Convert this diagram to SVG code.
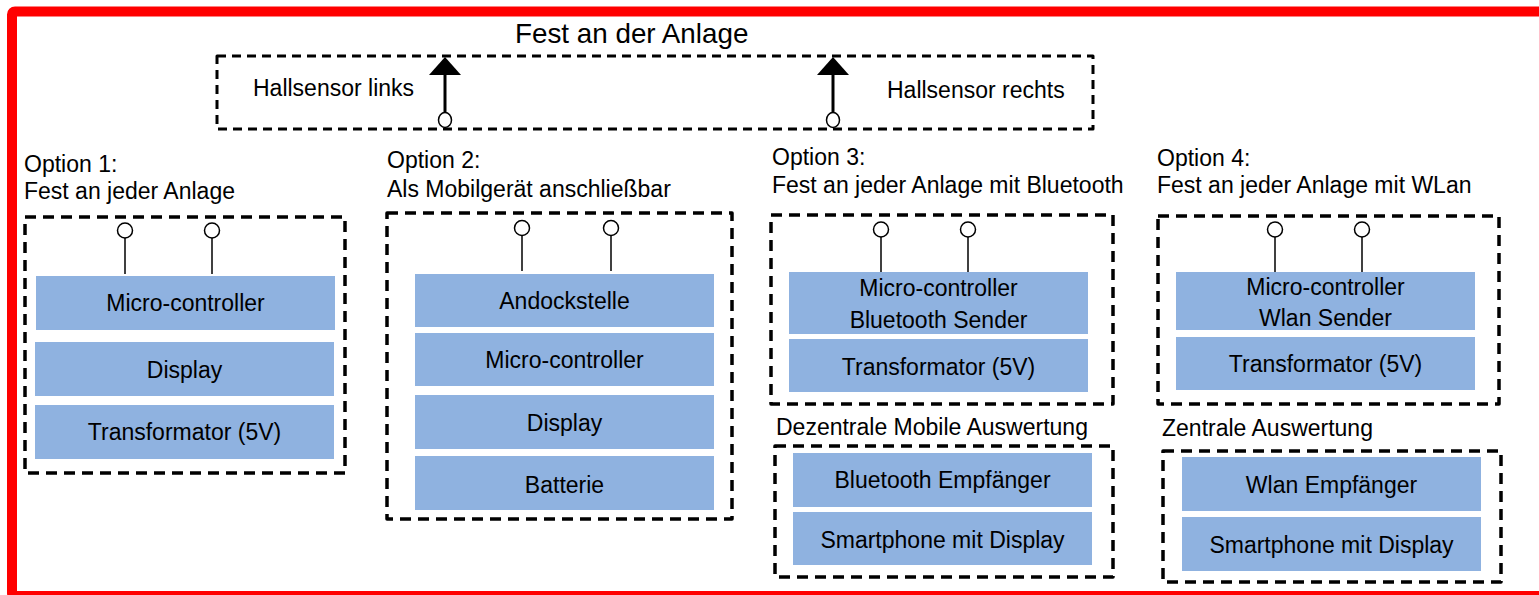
<svg xmlns="http://www.w3.org/2000/svg" width="1539" height="595" viewBox="0 0 1539 595">
  <style>
    text { font-family: "Liberation Sans", Arial, sans-serif; fill: #000; }
    .t { font-size: 23px; }
    .c { font-size: 23px; text-anchor: middle; }
    .title { font-size: 27.8px; }
    .frame { fill: none; stroke: #000; stroke-width: 3.5; stroke-dasharray: 11 7; stroke-linejoin: round; }
    .frame-top { fill: none; stroke: #000; stroke-width: 3; stroke-dasharray: 9 6; stroke-linejoin: round; }
    .block { fill: #8fb2e0; }
    .pin { fill: #fff; stroke: #000; stroke-width: 1.5; }
    .lead { stroke: #000; stroke-width: 1.5; }
    .sensor-line { stroke: #000; stroke-width: 3; }
  </style>

  <!-- outer frame -->
  <rect x="12" y="11.5" width="1540" height="584.5" rx="3" fill="#fff" stroke="#ff0000" stroke-width="10"/>

  <!-- sensors fixed on the track -->
  <g id="anlage">
    <text class="title" x="515" y="43">Fest an der Anlage</text>
    <rect class="frame-top" x="217" y="56" width="876" height="73"/>
    <text class="t" x="253" y="96">Hallsensor links</text>
    <text class="t" x="887" y="98">Hallsensor rechts</text>
  </g>

  <g id="connectors">
    <!-- hall sensors -->
    <line class="sensor-line" x1="445" y1="112" x2="445" y2="74"/>
    <polygon points="445,57 429,75 461,75" fill="#000"/>
    <ellipse class="pin" cx="445" cy="120" rx="6.5" ry="7.5"/>
    <line class="sensor-line" x1="833" y1="112" x2="833" y2="74"/>
    <polygon points="833,57 817,75 849,75" fill="#000"/>
    <ellipse class="pin" cx="833" cy="120" rx="6.5" ry="7.5"/>

    <!-- sensor inputs option 1 -->
    <line class="lead" x1="125" y1="238" x2="125" y2="274"/>
    <line class="lead" x1="212" y1="238" x2="212" y2="274"/>
    <circle class="pin" cx="125" cy="230.5" r="7.5"/>
    <circle class="pin" cx="212" cy="230.5" r="7.5"/>
    <!-- option 2 -->
    <line class="lead" x1="522" y1="236" x2="522" y2="271"/>
    <line class="lead" x1="611" y1="236" x2="611" y2="271"/>
    <circle class="pin" cx="522" cy="228" r="7.5"/>
    <circle class="pin" cx="611" cy="228" r="7.5"/>
    <!-- option 3 -->
    <line class="lead" x1="881" y1="237" x2="881" y2="272"/>
    <line class="lead" x1="968" y1="237" x2="968" y2="272"/>
    <circle class="pin" cx="881" cy="229.5" r="7.5"/>
    <circle class="pin" cx="968" cy="229.5" r="7.5"/>
    <!-- option 4 -->
    <line class="lead" x1="1275" y1="237" x2="1275" y2="272"/>
    <line class="lead" x1="1362" y1="237" x2="1362" y2="272"/>
    <circle class="pin" cx="1275" cy="229.5" r="7.5"/>
    <circle class="pin" cx="1362" cy="229.5" r="7.5"/>
  </g>

  <!-- option 1 -->
  <g id="option1">
    <text class="t" x="24" y="172">Option 1:</text>
    <text class="t" x="24" y="199">Fest an jeder Anlage</text>
    <rect class="frame" x="25" y="217" width="320" height="256"/>
    <rect class="block" x="36" y="276" width="299" height="54"/>
    <text class="c" x="185.5" y="311">Micro-controller</text>
    <rect class="block" x="35" y="342" width="299" height="54"/>
    <text class="c" x="184.5" y="378">Display</text>
    <rect class="block" x="35" y="405" width="299" height="54"/>
    <text class="c" x="184.5" y="440">Transformator (5V)</text>
  </g>

  <!-- option 2 -->
  <g id="option2">
    <text class="t" x="387" y="168">Option 2:</text>
    <text class="t" x="387" y="197">Als Mobilgerät anschließbar</text>
    <rect class="frame" x="387" y="213" width="345" height="306"/>
    <rect class="block" x="415" y="274" width="299" height="53"/>
    <text class="c" x="564.5" y="309">Andockstelle</text>
    <rect class="block" x="415" y="333" width="299" height="53"/>
    <text class="c" x="564.5" y="368">Micro-controller</text>
    <rect class="block" x="415" y="395" width="299" height="54"/>
    <text class="c" x="564.5" y="431">Display</text>
    <rect class="block" x="415" y="456" width="299" height="54"/>
    <text class="c" x="564.5" y="493">Batterie</text>
  </g>

  <!-- option 3 -->
  <g id="option3">
    <text class="t" x="772" y="165">Option 3:</text>
    <text class="t" x="772" y="193">Fest an jeder Anlage mit Bluetooth</text>
    <rect class="frame" x="771" y="215" width="342" height="189"/>
    <rect class="block" x="789" y="272" width="299" height="62"/>
    <text class="c" x="938.5" y="296">Micro-controller</text>
    <text class="c" x="938.5" y="328">Bluetooth Sender</text>
    <rect class="block" x="789" y="339" width="299" height="53"/>
    <text class="c" x="938.5" y="375">Transformator (5V)</text>
  </g>

  <g id="mobile-auswertung">
    <text class="t" x="776" y="435">Dezentrale Mobile Auswertung</text>
    <rect class="frame" x="775" y="446" width="338" height="131"/>
    <rect class="block" x="793" y="453" width="299" height="54"/>
    <text class="c" x="942.5" y="488">Bluetooth Empfänger</text>
    <rect class="block" x="793" y="512" width="299" height="53"/>
    <text class="c" x="942.5" y="548">Smartphone mit Display</text>
  </g>

  <!-- option 4 -->
  <g id="option4">
    <text class="t" x="1157" y="166">Option 4:</text>
    <text class="t" x="1157" y="193">Fest an jeder Anlage mit WLan</text>
    <rect class="frame" x="1158" y="216" width="341" height="188"/>
    <rect class="block" x="1176" y="272" width="299" height="58"/>
    <text class="c" x="1325.5" y="295">Micro-controller</text>
    <text class="c" x="1325.5" y="326">Wlan Sender</text>
    <rect class="block" x="1176" y="337" width="299" height="53"/>
    <text class="c" x="1325.5" y="372">Transformator (5V)</text>
  </g>

  <g id="zentrale-auswertung">
    <text class="t" x="1162" y="436">Zentrale Auswertung</text>
    <rect class="frame" x="1163" y="451" width="338" height="131"/>
    <rect class="block" x="1182" y="457" width="299" height="54"/>
    <text class="c" x="1331.5" y="493">Wlan Empfänger</text>
    <rect class="block" x="1182" y="517" width="299" height="54"/>
    <text class="c" x="1331.5" y="553">Smartphone mit Display</text>
  </g>
</svg>
